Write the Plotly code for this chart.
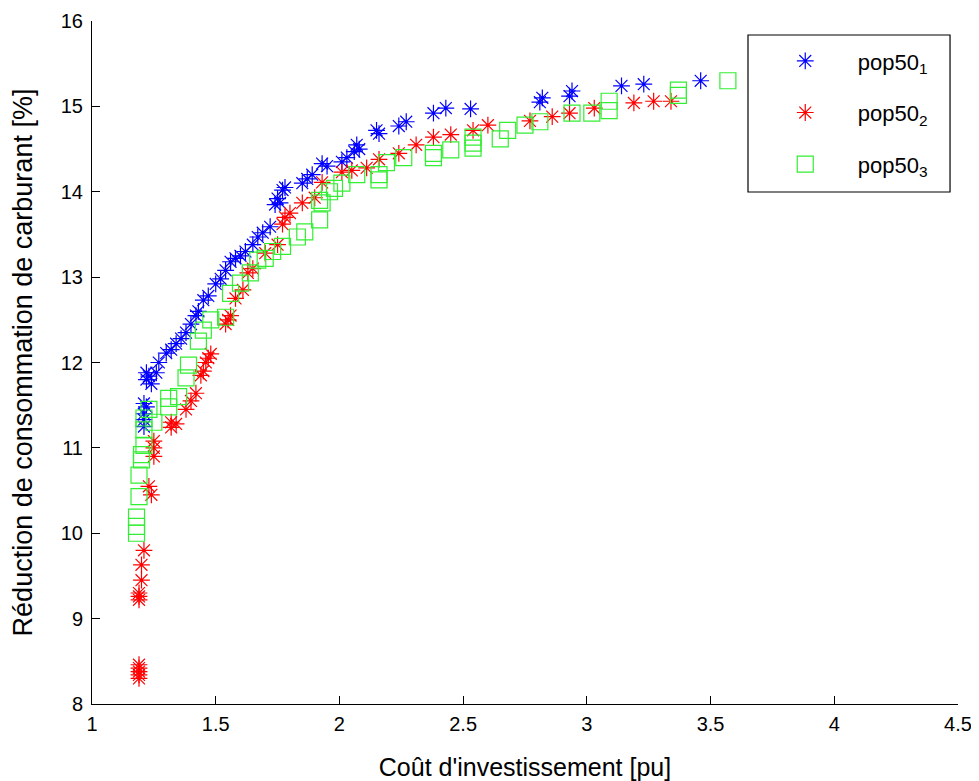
import plotly.graph_objects as go

# pop50_1 (blue asterisks)
pop1_x = [1.21, 1.21, 1.21, 1.22, 1.21, 1.22, 1.22, 1.23, 1.26, 1.24,
          1.27, 1.30, 1.32, 1.34, 1.36, 1.38, 1.40, 1.42, 1.43, 1.45,
          1.47, 1.50, 1.52, 1.54, 1.56, 1.58, 1.60, 1.62, 1.65, 1.67,
          1.69, 1.72, 1.74, 1.75, 1.76, 1.77, 1.78, 1.85, 1.87, 1.89,
          1.93, 1.95, 2.01, 2.03, 2.06, 2.07, 2.08, 2.15, 2.16, 2.24,
          2.27, 2.38, 2.43, 2.53, 2.81, 2.82, 2.93, 2.94, 3.14, 3.23,
          3.46]
pop1_y = [11.25, 11.33, 11.40, 11.48, 11.52, 11.80, 11.88, 11.84, 11.88, 11.75,
          12.00, 12.11, 12.15, 12.22, 12.28, 12.35, 12.45, 12.55, 12.60, 12.73,
          12.78, 12.92, 12.98, 13.08, 13.18, 13.22, 13.25, 13.30, 13.38, 13.47,
          13.52, 13.59, 13.85, 13.92, 13.87, 14.02, 14.05, 14.10, 14.15, 14.20,
          14.33, 14.30, 14.35, 14.40, 14.47, 14.55, 14.50, 14.72, 14.68, 14.77,
          14.82, 14.92, 14.98, 14.97, 15.05, 15.10, 15.12, 15.18, 15.24, 15.26,
          15.30]

# pop50_2 (red asterisks)
pop2_x = [1.19, 1.19, 1.19, 1.19, 1.19, 1.19, 1.19, 1.19, 1.20, 1.20,
          1.21, 1.24, 1.23, 1.25, 1.25, 1.25, 1.32, 1.32, 1.34, 1.38,
          1.40, 1.42, 1.44, 1.45, 1.46, 1.47, 1.48, 1.54, 1.55, 1.56,
          1.58, 1.61, 1.63, 1.65, 1.70, 1.75, 1.77, 1.78, 1.80, 1.85,
          1.90, 1.93, 2.01, 2.05, 2.11, 2.16, 2.24, 2.31, 2.38, 2.45,
          2.54, 2.60, 2.77, 2.86, 2.93, 3.03, 3.19, 3.27, 3.34]
pop2_y = [8.30, 8.34, 8.38, 8.42, 8.46, 9.22, 9.26, 9.30, 9.45, 9.63,
          9.80, 10.45, 10.55, 10.90, 11.00, 11.08, 11.24, 11.30, 11.28, 11.45,
          11.55, 11.64, 11.85, 11.90, 12.00, 12.05, 12.10, 12.45, 12.50, 12.55,
          12.75, 12.85, 13.05, 13.10, 13.28, 13.38, 13.62, 13.70, 13.75, 13.87,
          13.93, 14.11, 14.23, 14.25, 14.28, 14.38, 14.45, 14.55, 14.64, 14.67,
          14.72, 14.78, 14.83, 14.88, 14.92, 14.98, 15.04, 15.06, 15.06]

# pop50_3 (green squares)
pop3_x = [1.18, 1.18, 1.18, 1.19, 1.19, 1.20, 1.20, 1.21, 1.21, 1.21,
          1.23, 1.25, 1.31, 1.31, 1.35, 1.38, 1.39, 1.43, 1.45, 1.48,
          1.54, 1.56, 1.60, 1.64, 1.67, 1.70, 1.73, 1.77, 1.83, 1.86,
          1.92, 1.92, 1.93, 1.96, 1.98, 2.01, 2.07, 2.16, 2.16, 2.19,
          2.26, 2.38, 2.38, 2.45, 2.54, 2.54, 2.54, 2.65, 2.68, 2.75,
          2.81, 2.94, 3.02, 3.09, 3.09, 3.37, 3.37, 3.57]
pop3_y = [10.00, 10.08, 10.19, 10.43, 10.68, 10.86, 10.92, 11.03, 11.21, 11.35,
          11.45, 11.30, 11.48, 11.58, 11.60, 11.82, 11.97, 12.25, 12.38, 12.50,
          12.53, 12.81, 12.93, 13.05, 13.20, 13.22, 13.30, 13.36, 13.47, 13.53,
          13.67, 13.90, 13.87, 14.00, 14.04, 14.10, 14.20, 14.14, 14.20, 14.34,
          14.40, 14.40, 14.45, 14.49, 14.51, 14.57, 14.64, 14.62, 14.72, 14.78,
          14.82, 14.92, 14.92, 14.95, 15.06, 15.13, 15.19, 15.30]

x_ticks = [1, 1.5, 2, 2.5, 3, 3.5, 4, 4.5]
x_tick_labels = ["1", "1.5", "2", "2.5", "3", "3.5", "4", "4.5"]
y_ticks = [8, 9, 10, 11, 12, 13, 14, 15, 16]

FONT = "Liberation Sans, Arial, sans-serif"

fig = go.Figure()
fig.add_trace(go.Scatter(
    x=pop1_x, y=pop1_y, mode="markers", name="pop50<sub>1</sub>",
    legendgroup="a",
    marker=dict(symbol="asterisk-open", size=14, color="#0000ff",
                line=dict(color="#0000ff", width=1.2))))
fig.add_trace(go.Scatter(
    x=pop2_x, y=pop2_y, mode="markers", name="pop50<sub>2</sub>",
    legendgroup="b",
    marker=dict(symbol="asterisk-open", size=14, color="#ff0000",
                line=dict(color="#ff0000", width=1.2))))
fig.add_trace(go.Scatter(
    x=pop3_x, y=pop3_y, mode="markers", name="pop50<sub>3</sub>",
    legendgroup="c",
    marker=dict(symbol="square-open", size=16, color="#33ee33",
                line=dict(color="#33ee33", width=1.2))))

# legend frame
fig.add_shape(type="rect", xref="paper", yref="paper",
              x0=0.7575, x1=0.9908, y0=0.7496, y1=0.9795,
              line=dict(color="black", width=1.2), fillcolor="rgba(0,0,0,0)",
              layer="below")

fig.update_layout(
    width=971, height=773,
    margin=dict(l=84, r=21, t=13, b=77),
    paper_bgcolor="white", plot_bgcolor="white",
    font=dict(family=FONT, size=20, color="black"),
    legend=dict(x=0.763, y=0.972, xanchor="left", yanchor="top",
                borderwidth=0, bgcolor="rgba(0,0,0,0)",
                font=dict(family=FONT, size=22, color="black"),
                tracegroupgap=20, itemwidth=95),
    xaxis=dict(range=[1, 4.5], tickvals=x_ticks, ticktext=x_tick_labels,
               ticks="inside", ticklen=8, tickcolor="black",
               ticklabelstandoff=2,
               showline=True, linecolor="black", linewidth=1, mirror=False,
               showgrid=False, zeroline=False, automargin=False,
               title=dict(text="Coût d'investissement [pu]", standoff=24,
                          font=dict(size=25))),
    yaxis=dict(range=[8, 16], tickvals=y_ticks,
               ticks="inside", ticklen=8, tickcolor="black",
               ticklabelstandoff=4,
               showline=True, linecolor="black", linewidth=1, mirror=False,
               showgrid=False, zeroline=False, automargin=False,
               title=dict(text="Réduction de consommation de carburant [%]",
                          standoff=26, font=dict(size=27))),
)

fig.write_html("out.html")
